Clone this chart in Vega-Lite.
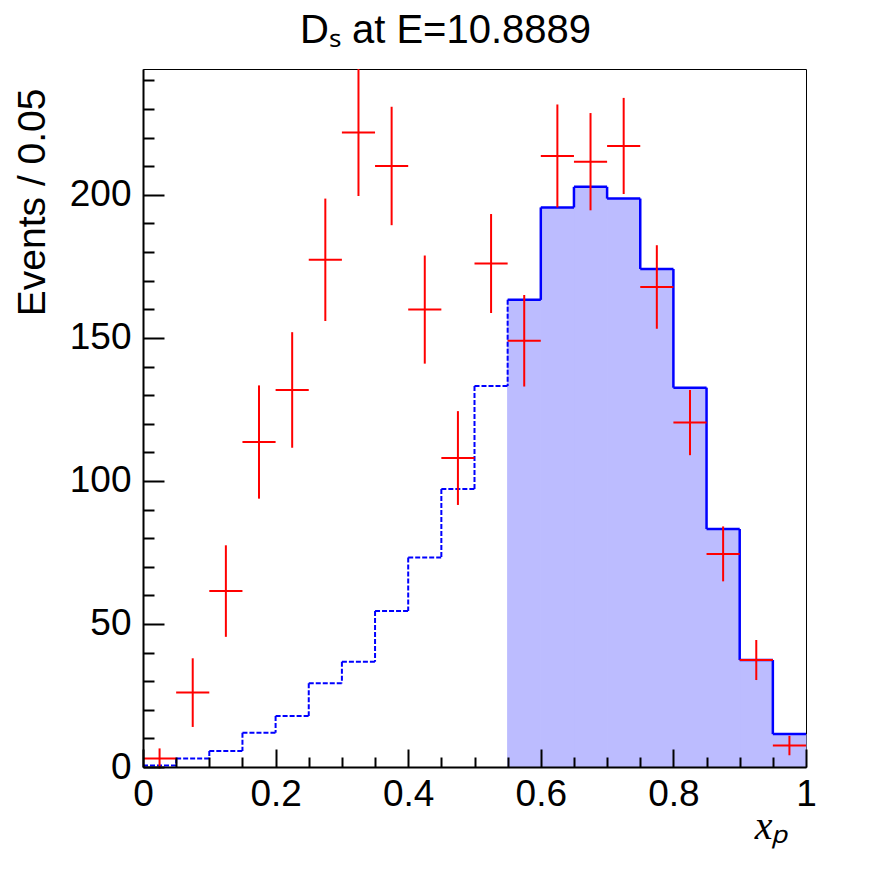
{
  "$schema": "https://vega.github.io/schema/vega-lite/v6.json",
  "autosize": "none",
  "padding": {"left": 143, "top": 69, "right": 90, "bottom": 105},
  "width": 663,
  "height": 698,
  "background": "white",
  "title": {
    "text": "Dₛ at E=10.8889",
    "font": "Liberation Sans",
    "fontSize": 40,
    "fontWeight": "normal",
    "color": "black",
    "anchor": "middle",
    "frame": "group",
    "dx": -29,
    "offset": 17
  },
  "data": {
    "values": [
      {"x": 0.025, "xlo": 0.0, "xhi": 0.05, "y": 3.0, "err": 3.5, "mc": 0.5},
      {"x": 0.075, "xlo": 0.05, "xhi": 0.1, "y": 26.0, "err": 12.0, "mc": 3.0},
      {"x": 0.125, "xlo": 0.1, "xhi": 0.15, "y": 61.5, "err": 16.0, "mc": 5.6},
      {"x": 0.175, "xlo": 0.15, "xhi": 0.2, "y": 113.6, "err": 19.8, "mc": 12.0},
      {"x": 0.225, "xlo": 0.2, "xhi": 0.25, "y": 131.8, "err": 20.2, "mc": 17.8},
      {"x": 0.275, "xlo": 0.25, "xhi": 0.3, "y": 177.3, "err": 21.4, "mc": 29.3},
      {"x": 0.325, "xlo": 0.3, "xhi": 0.35, "y": 221.8, "err": 22.2, "mc": 36.8},
      {"x": 0.375, "xlo": 0.35, "xhi": 0.4, "y": 210.1, "err": 20.7, "mc": 54.5},
      {"x": 0.425, "xlo": 0.4, "xhi": 0.45, "y": 159.9, "err": 18.9, "mc": 73.2},
      {"x": 0.475, "xlo": 0.45, "xhi": 0.5, "y": 108.0, "err": 16.4, "mc": 97.2},
      {"x": 0.525, "xlo": 0.5, "xhi": 0.55, "y": 176.0, "err": 17.3, "mc": 133.2},
      {"x": 0.575, "xlo": 0.55, "xhi": 0.6, "y": 149.0, "err": 16.0, "mc": 163.3},
      {"x": 0.625, "xlo": 0.6, "xhi": 0.65, "y": 213.6, "err": 18.0, "mc": 195.6},
      {"x": 0.675, "xlo": 0.65, "xhi": 0.7, "y": 211.6, "err": 17.0, "mc": 202.8},
      {"x": 0.725, "xlo": 0.7, "xhi": 0.75, "y": 217.1, "err": 16.8, "mc": 198.7},
      {"x": 0.775, "xlo": 0.75, "xhi": 0.8, "y": 167.8, "err": 14.6, "mc": 174.1},
      {"x": 0.825, "xlo": 0.8, "xhi": 0.85, "y": 120.4, "err": 11.4, "mc": 132.6},
      {"x": 0.875, "xlo": 0.85, "xhi": 0.9, "y": 74.5, "err": 9.6, "mc": 83.2},
      {"x": 0.925, "xlo": 0.9, "xhi": 0.95, "y": 37.4, "err": 7.0, "mc": 37.4},
      {"x": 0.975, "xlo": 0.95, "xhi": 1.0, "y": 7.5, "err": 3.4, "mc": 11.5}
    ]
  },
  "resolve": {"axis": {"x": "independent", "y": "independent"}},
  "layer": [
    {
      "transform": [{"filter": "datum.xlo >= 0.549"}],
      "mark": {"type": "rect", "color": "#bcbcff", "stroke": "#bcbcff", "strokeWidth": 1},
      "encoding": {
        "x": {
          "field": "xlo",
          "type": "quantitative",
          "scale": {"domain": [0, 1], "nice": false, "zero": false},
          "axis": {
            "orient": "bottom",
            "zindex": 1,
            "values": [0, 0.2, 0.4, 0.6, 0.8, 1],
            "grid": false,
            "tickSize": -18,
            "tickWidth": 2,
            "tickColor": "black",
            "domainColor": "black",
            "domainWidth": 2,
            "labelExpr": "format(datum.value, '~g')",
            "labelFont": "Liberation Sans",
            "labelFontSize": 37,
            "labelColor": "black",
            "labelPadding": 27,
            "labelFlush": false,
            "labelOverlap": false,
            "title": "xₚ",
            "titleFont": "Liberation Serif",
            "titleFontStyle": "italic",
            "titleFontWeight": "normal",
            "titleFontSize": 40,
            "titleColor": "black",
            "titleX": 645,
            "titleY": 71,
            "titleAlign": "right",
            "titleBaseline": "alphabetic"
          }
        },
        "x2": {"field": "xhi"},
        "y": {
          "field": "mc",
          "type": "quantitative",
          "scale": {"domain": [0, 244], "nice": false, "zero": true},
          "axis": {
            "orient": "left",
            "zindex": 1,
            "values": [0, 50, 100, 150, 200],
            "grid": false,
            "tickSize": -21,
            "tickWidth": 2,
            "tickColor": "black",
            "domainColor": "black",
            "domainWidth": 2,
            "format": "d",
            "labelFont": "Liberation Sans",
            "labelFontSize": 37,
            "labelColor": "black",
            "labelPadding": 33,
            "labelFlush": false,
            "labelOverlap": false,
            "title": "Events / 0.05",
            "titleFont": "Liberation Sans",
            "titleFontWeight": "normal",
            "titleFontSize": 39,
            "titleColor": "black",
            "titleAngle": -90,
            "titleX": -99,
            "titleY": 19,
            "titleAlign": "right",
            "titleBaseline": "alphabetic"
          }
        },
        "y2": {"datum": 0}
      }
    },
    {
      "transform": [{"filter": "datum.xlo < 0.549"}],
      "mark": {"type": "rule", "color": "#0000ff", "strokeWidth": 2, "strokeDash": [5, 2]},
      "encoding": {
        "x": {
          "field": "xlo",
          "type": "quantitative",
          "axis": {
            "orient": "bottom",
            "zindex": 1,
            "values": [0.05, 0.1, 0.15, 0.25, 0.3, 0.35, 0.45, 0.5, 0.55, 0.65, 0.7, 0.75, 0.85, 0.9, 0.95],
            "grid": false,
            "domain": false,
            "labels": false,
            "title": null,
            "tickSize": -10,
            "tickWidth": 2,
            "tickColor": "black"
          }
        },
        "x2": {"field": "xhi"},
        "y": {
          "field": "mc",
          "type": "quantitative",
          "axis": {
            "orient": "left",
            "zindex": 1,
            "values": [10, 20, 30, 40, 60, 70, 80, 90, 110, 120, 130, 140, 160, 170, 180, 190, 210, 220, 230, 240],
            "grid": false,
            "domain": false,
            "labels": false,
            "title": null,
            "tickSize": -11,
            "tickWidth": 2,
            "tickColor": "black"
          }
        }
      }
    },
    {
      "transform": [
        {"window": [{"op": "lag", "field": "mc", "as": "prev"}], "sort": [{"field": "xlo"}]},
        {"filter": "datum.prev != null && datum.xlo < 0.551"}
      ],
      "mark": {"type": "rule", "color": "#0000ff", "strokeWidth": 2, "strokeDash": [5, 2]},
      "encoding": {
        "x": {"field": "xlo", "type": "quantitative", "axis": null},
        "y": {"field": "mc", "type": "quantitative", "axis": null},
        "y2": {"field": "prev"}
      }
    },
    {
      "transform": [{"filter": "datum.xlo >= 0.549"}],
      "mark": {"type": "rule", "color": "#0000ff", "strokeWidth": 2.5},
      "encoding": {
        "x": {"field": "xlo", "type": "quantitative", "axis": null},
        "x2": {"field": "xhi"},
        "y": {"field": "mc", "type": "quantitative", "axis": null}
      }
    },
    {
      "transform": [
        {"window": [{"op": "lag", "field": "mc", "as": "prev"}], "sort": [{"field": "xlo"}]},
        {"filter": "datum.prev != null && datum.xlo > 0.551"}
      ],
      "mark": {"type": "rule", "color": "#0000ff", "strokeWidth": 2.5},
      "encoding": {
        "x": {"field": "xlo", "type": "quantitative", "axis": null},
        "y": {"field": "mc", "type": "quantitative", "axis": null},
        "y2": {"field": "prev"}
      }
    },
    {
      "mark": {"type": "rule", "color": "#ff0000", "strokeWidth": 2},
      "encoding": {
        "x": {"field": "xlo", "type": "quantitative", "axis": null},
        "x2": {"field": "xhi"},
        "y": {"field": "y", "type": "quantitative", "axis": null}
      }
    },
    {
      "mark": {"type": "errorbar", "color": "#ff0000", "thickness": 2},
      "encoding": {
        "x": {"field": "x", "type": "quantitative", "axis": null},
        "y": {"field": "y", "type": "quantitative", "axis": null},
        "yError": {"field": "err"}
      }
    }
  ],
  "config": {
    "view": {"stroke": "black", "strokeWidth": 1},
    "font": "Liberation Sans",
    "axis": {"grid": false}
  }
}
